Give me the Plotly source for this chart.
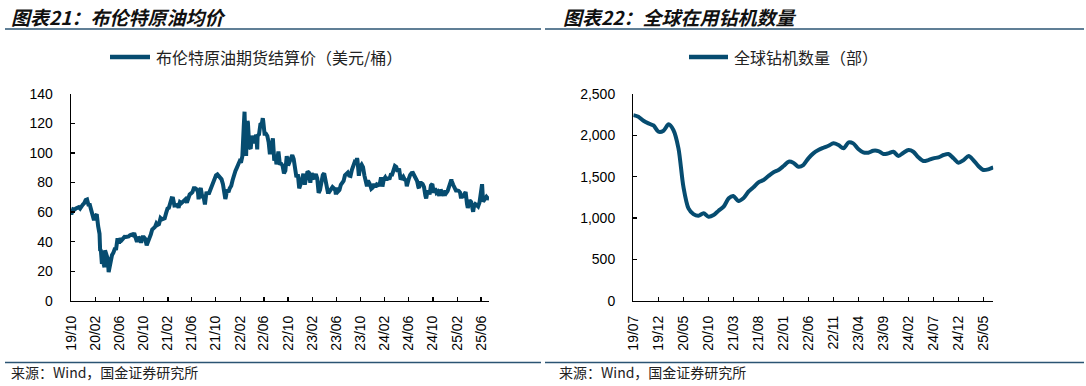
import plotly.graph_objects as go

W, H = 1086, 386

# ---------------- data ----------------
brent_dates = [
    "2019-10-14", "2019-10-18", "2019-10-25", "2019-11-01", "2019-11-08", "2019-11-15", "2019-11-22", "2019-11-29",
    "2019-12-06", "2019-12-13", "2019-12-20", "2019-12-27",
    "2020-01-03", "2020-01-10", "2020-01-17", "2020-01-24", "2020-01-31", "2020-02-07", "2020-02-14", "2020-02-21",
    "2020-02-28", "2020-03-06", "2020-03-09", "2020-03-13", "2020-03-18", "2020-03-20", "2020-03-27", "2020-03-31",
    "2020-04-03", "2020-04-10", "2020-04-17", "2020-04-21", "2020-04-24", "2020-05-01", "2020-05-08", "2020-05-15",
    "2020-05-22", "2020-05-29", "2020-06-05", "2020-06-12", "2020-06-19", "2020-06-26", "2020-07-03", "2020-07-10",
    "2020-07-17", "2020-07-24", "2020-07-31", "2020-08-07", "2020-08-14", "2020-08-21", "2020-08-28", "2020-09-04",
    "2020-09-11", "2020-09-18", "2020-09-25", "2020-10-02", "2020-10-09", "2020-10-16", "2020-10-23", "2020-10-30",
    "2020-11-06", "2020-11-13", "2020-11-20", "2020-11-27", "2020-12-04", "2020-12-11", "2020-12-18", "2020-12-24",
    "2020-12-31",
    "2021-01-08", "2021-01-15", "2021-01-22", "2021-01-29", "2021-02-05", "2021-02-12", "2021-02-19", "2021-02-26",
    "2021-03-05", "2021-03-12", "2021-03-19", "2021-03-26", "2021-04-02", "2021-04-09", "2021-04-16", "2021-04-23",
    "2021-04-30", "2021-05-07", "2021-05-14", "2021-05-21", "2021-05-28", "2021-06-04", "2021-06-11", "2021-06-18",
    "2021-06-25", "2021-07-02", "2021-07-09", "2021-07-16", "2021-07-19", "2021-07-23", "2021-07-30", "2021-08-06",
    "2021-08-13", "2021-08-20", "2021-08-27", "2021-09-03", "2021-09-10", "2021-09-17", "2021-09-24", "2021-10-01",
    "2021-10-08", "2021-10-15", "2021-10-22", "2021-10-29", "2021-11-05", "2021-11-12", "2021-11-19", "2021-11-26",
    "2021-12-01", "2021-12-03", "2021-12-10", "2021-12-17", "2021-12-23", "2021-12-31",
    "2022-01-07", "2022-01-14", "2022-01-21", "2022-01-28", "2022-02-04", "2022-02-11", "2022-02-18", "2022-02-25",
    "2022-03-04", "2022-03-08", "2022-03-11", "2022-03-16", "2022-03-18", "2022-03-23", "2022-03-25", "2022-04-01",
    "2022-04-08", "2022-04-14", "2022-04-22", "2022-04-29", "2022-05-06", "2022-05-11", "2022-05-13", "2022-05-20",
    "2022-05-27", "2022-06-03", "2022-06-08", "2022-06-10", "2022-06-17", "2022-06-24", "2022-07-01", "2022-07-08",
    "2022-07-14", "2022-07-15", "2022-07-22", "2022-07-29", "2022-08-05", "2022-08-12", "2022-08-16", "2022-08-19",
    "2022-08-26", "2022-09-02", "2022-09-09", "2022-09-16", "2022-09-23", "2022-09-30", "2022-10-07", "2022-10-14",
    "2022-10-21", "2022-10-28", "2022-11-04", "2022-11-11", "2022-11-18", "2022-11-25", "2022-12-02", "2022-12-09",
    "2022-12-16", "2022-12-23", "2022-12-30",
    "2023-01-06", "2023-01-13", "2023-01-20", "2023-01-27", "2023-02-03", "2023-02-10", "2023-02-17", "2023-02-24",
    "2023-03-03", "2023-03-10", "2023-03-17", "2023-03-24", "2023-03-31", "2023-04-07", "2023-04-14", "2023-04-21",
    "2023-04-28", "2023-05-04", "2023-05-05", "2023-05-12", "2023-05-19", "2023-05-26", "2023-06-02", "2023-06-09",
    "2023-06-12", "2023-06-16", "2023-06-23", "2023-06-30", "2023-07-07", "2023-07-14", "2023-07-21", "2023-07-28",
    "2023-08-04", "2023-08-11", "2023-08-18", "2023-08-25", "2023-09-01", "2023-09-08", "2023-09-15", "2023-09-22",
    "2023-09-27", "2023-09-29", "2023-10-06", "2023-10-13", "2023-10-20", "2023-10-27", "2023-11-03", "2023-11-10",
    "2023-11-16", "2023-11-17", "2023-11-24", "2023-12-01", "2023-12-08", "2023-12-15", "2023-12-22", "2023-12-29",
    "2024-01-05", "2024-01-12", "2024-01-19", "2024-01-26", "2024-02-02", "2024-02-09", "2024-02-16", "2024-02-23",
    "2024-03-01", "2024-03-08", "2024-03-15", "2024-03-22", "2024-03-28", "2024-04-05", "2024-04-12", "2024-04-19",
    "2024-04-26", "2024-05-03", "2024-05-10", "2024-05-17", "2024-05-24", "2024-05-31", "2024-06-04", "2024-06-07",
    "2024-06-14", "2024-06-21", "2024-06-28", "2024-07-05", "2024-07-12", "2024-07-19", "2024-07-26", "2024-08-02",
    "2024-08-05", "2024-08-09", "2024-08-16", "2024-08-23", "2024-08-30", "2024-09-06", "2024-09-10", "2024-09-13",
    "2024-09-20", "2024-09-27", "2024-10-04", "2024-10-11", "2024-10-18", "2024-10-25", "2024-11-01", "2024-11-08",
    "2024-11-15", "2024-11-22", "2024-11-29", "2024-12-06", "2024-12-13", "2024-12-20", "2024-12-27",
    "2025-01-03", "2025-01-10", "2025-01-15", "2025-01-17", "2025-01-24", "2025-01-31", "2025-02-07", "2025-02-14",
    "2025-02-21", "2025-02-28", "2025-03-05", "2025-03-07", "2025-03-14", "2025-03-21", "2025-03-28", "2025-04-04",
    "2025-04-08", "2025-04-11", "2025-04-17", "2025-04-25", "2025-05-02", "2025-05-05", "2025-05-09", "2025-05-16",
    "2025-05-23", "2025-05-30", "2025-06-06", "2025-06-13", "2025-06-19", "2025-06-20", "2025-06-24", "2025-06-27",
    "2025-07-04", "2025-07-11", "2025-07-18", "2025-07-24",
]
brent_values = [
    59.4, 59.4, 62.0, 61.7, 62.5, 63.3, 63.4, 62.4,
    64.4, 65.2, 66.1, 68.2,
    68.6, 65.0, 64.9, 60.7, 58.2, 54.5, 57.3, 58.5,
    50.5, 45.3, 34.4, 33.9, 24.9, 27.0, 24.9, 22.7,
    34.1, 31.5, 28.1, 19.3, 21.4, 26.4, 30.9, 32.5,
    35.1, 35.3, 42.3, 38.7, 42.2, 41.0, 42.8, 43.2,
    43.1, 43.3, 43.5, 44.4, 44.8, 44.4, 45.8, 42.7,
    39.8, 43.2, 41.9, 39.3, 42.9, 42.9, 41.8, 37.5,
    39.5, 42.8, 44.9, 48.2, 49.3, 50.0, 52.3, 51.3,
    51.8,
    56.0, 55.1, 55.4, 55.9, 59.3, 62.4, 62.9, 66.1,
    69.4, 69.2, 64.5, 64.6, 64.9, 63.0, 66.8, 66.1,
    67.3, 68.3, 68.7, 66.4, 69.6, 71.9, 72.7, 73.5,
    76.2, 76.2, 75.5, 73.6, 68.6, 74.1, 76.3, 70.7,
    70.6, 65.2, 72.7, 72.6, 72.9, 75.3, 78.1, 79.3,
    82.4, 84.9, 85.5, 84.4, 82.7, 82.2, 78.9, 72.7,
    68.9, 69.9, 75.2, 73.5, 76.1, 77.8,
    81.8, 86.1, 87.9, 90.0, 93.3, 94.4, 93.5, 97.9,
    118.1, 128.0, 112.7, 98.0, 107.9, 121.6, 120.7, 104.4,
    102.8, 111.7, 106.7, 109.3, 112.4, 102.5, 111.6, 112.6,
    119.4, 119.7, 123.6, 122.0, 113.1, 113.1, 111.6, 107.0,
    99.1, 101.2, 103.2, 110.0, 94.9, 98.2, 92.3, 96.7,
    101.0, 93.0, 92.8, 91.4, 86.2, 88.0, 97.9, 91.6,
    93.5, 95.8, 98.6, 96.0, 87.6, 83.6, 85.6, 76.1,
    79.0, 83.9, 85.9,
    78.6, 85.3, 87.6, 86.7, 79.9, 86.4, 83.0, 83.2,
    85.8, 82.8, 73.0, 75.0, 79.8, 85.1, 86.3, 81.7,
    79.5, 72.5, 75.3, 74.2, 75.6, 77.0, 76.1, 74.8,
    72.0, 76.6, 73.9, 74.9, 78.5, 79.9, 81.1, 85.0,
    86.2, 86.8, 84.8, 84.5, 88.6, 90.7, 93.9, 93.3,
    96.5, 95.3, 84.6, 90.9, 92.2, 90.5, 84.9, 81.4,
    77.4, 80.6, 80.6, 78.9, 75.8, 76.6, 79.1, 77.0,
    78.8, 78.3, 78.6, 83.6, 77.3, 82.2, 83.5, 81.6,
    83.6, 82.1, 85.3, 85.4, 87.5, 91.2, 90.5, 87.3,
    89.5, 83.0, 82.8, 84.0, 82.1, 81.6, 77.5, 79.6,
    82.6, 85.2, 86.4, 86.5, 85.0, 82.6, 81.1, 76.8,
    76.3, 79.7, 79.7, 79.0, 76.9, 71.1, 69.2, 71.6,
    74.5, 72.0, 78.1, 79.0, 73.1, 76.1, 73.1, 73.9,
    71.0, 75.2, 72.9, 71.1, 74.5, 72.9, 74.2,
    76.5, 79.8, 82.0, 81.0, 78.5, 76.8, 74.7, 74.7,
    74.4, 73.2, 69.3, 70.4, 70.6, 72.2, 73.6, 65.6,
    62.8, 64.8, 68.0, 66.9, 61.3, 60.2, 63.9, 65.4,
    64.8, 63.9, 66.5, 74.2, 78.9, 77.0, 67.1, 67.8,
    68.3, 70.4, 69.3, 69.2,
]
brent_ticks = ["2019-10-14", "2020-02-14", "2020-06-14", "2020-10-14", "2021-02-14", "2021-06-14",
               "2021-10-14", "2022-02-14", "2022-06-14", "2022-10-14", "2023-02-14", "2023-06-14",
               "2023-10-14", "2024-02-14", "2024-06-14", "2024-10-14", "2025-02-14", "2025-06-14"]
brent_ticklabels = ["19/10", "20/02", "20/06", "20/10", "21/02", "21/06", "21/10", "22/02", "22/06",
                    "22/10", "23/02", "23/06", "23/10", "24/02", "24/06", "24/10", "25/02", "25/06"]

rig_months = [
    "2019-07", "2019-08", "2019-09", "2019-10", "2019-11", "2019-12",
    "2020-01", "2020-02", "2020-03", "2020-04", "2020-05", "2020-06", "2020-07", "2020-08", "2020-09", "2020-10", "2020-11", "2020-12",
    "2021-01", "2021-02", "2021-03", "2021-04", "2021-05", "2021-06", "2021-07", "2021-08", "2021-09", "2021-10", "2021-11", "2021-12",
    "2022-01", "2022-02", "2022-03", "2022-04", "2022-05", "2022-06", "2022-07", "2022-08", "2022-09", "2022-10", "2022-11", "2022-12",
    "2023-01", "2023-02", "2023-03", "2023-04", "2023-05", "2023-06", "2023-07", "2023-08", "2023-09", "2023-10", "2023-11", "2023-12",
    "2024-01", "2024-02", "2024-03", "2024-04", "2024-05", "2024-06", "2024-07", "2024-08", "2024-09", "2024-10", "2024-11", "2024-12",
    "2025-01", "2025-02", "2025-03", "2025-04", "2025-05", "2025-06", "2025-07",
]
rig_values = [
    2245, 2225, 2177, 2145, 2120, 2044,
    2056, 2133, 2064, 1843, 1379, 1117, 1048, 1028, 1057, 1016, 1036, 1088,
    1137, 1238, 1266, 1206, 1238, 1318, 1371, 1432, 1460, 1508, 1553, 1581,
    1629, 1681, 1669, 1621, 1641, 1722, 1782, 1822, 1850, 1874, 1903, 1883,
    1843, 1915, 1903, 1834, 1794, 1790, 1814, 1810, 1774, 1782, 1802, 1750,
    1790, 1822, 1802, 1734, 1689, 1701, 1722, 1734, 1762, 1774, 1722, 1669,
    1701, 1750, 1701, 1629, 1581, 1589, 1613,
]
rig_ticks = ["2019-07", "2019-12", "2020-05", "2020-10", "2021-03", "2021-08", "2022-01", "2022-06",
             "2022-11", "2023-04", "2023-09", "2024-02", "2024-07", "2024-12", "2025-05"]
rig_ticklabels = ["19/07", "19/12", "20/05", "20/10", "21/03", "21/08", "22/01", "22/06",
                  "22/11", "23/04", "23/09", "24/02", "24/07", "24/12", "25/05"]

LINE = "#064C70"
RULE = "#2B5473"
CJK = "Noto Sans CJK SC"
LAT = "Liberation Sans, Arial"


def px(x):
    return x / W


def py(y):
    return 1 - y / H


fig = go.Figure()
fig.add_trace(go.Scatter(x=brent_dates, y=brent_values, mode="lines",
                         line=dict(color=LINE, width=4), xaxis="x", yaxis="y",
                         name="布伦特原油期货结算价（美元/桶）", showlegend=False))
fig.add_trace(go.Scatter(x=rig_months, y=rig_values, mode="lines",
                         line=dict(color=LINE, width=4, shape="spline", smoothing=0.8),
                         xaxis="x2", yaxis="y2", name="全球钻机数量（部）", showlegend=False))

ydom = [py(300.7), py(94)]
axis_common = dict(showline=True, linecolor="black", linewidth=1.3, ticks="inside", ticklen=4,
                   tickcolor="black", tickwidth=1.3, showgrid=False, zeroline=False, automargin=False,
                   tickfont=dict(family=LAT, size=14, color="black"))

fig.update_layout(
    template="none",
    width=W, height=H, margin=dict(l=0, r=0, t=0, b=0, pad=0), autosize=False,
    paper_bgcolor="white", plot_bgcolor="white",
    xaxis=dict(domain=[px(71), px(489)], type="date", range=["2019-10-14", "2025-07-24"],
               tickmode="array", tickvals=brent_ticks, ticktext=brent_ticklabels,
               tickangle=-90, ticklabelstandoff=8, anchor="y", **axis_common),
    yaxis=dict(domain=ydom, range=[0, 140], tickmode="array", tickvals=[0, 20, 40, 60, 80, 100, 120, 140],
               ticklabelstandoff=14, anchor="x", **axis_common),
    xaxis2=dict(domain=[px(633.3), px(993.3)], type="date", range=["2019-07-01", "2025-07-01"],
                tickmode="array", tickvals=rig_ticks, ticktext=rig_ticklabels,
                tickangle=-90, ticklabelstandoff=8, anchor="y2", **axis_common),
    yaxis2=dict(domain=ydom, range=[0, 2500], tickmode="array", tickvals=[0, 500, 1000, 1500, 2000, 2500],
                tickformat=",", ticklabelstandoff=14, anchor="x2", **axis_common),
)

shapes = []
for x0, x1 in [(5, 541), (545, 1084)]:
    shapes.append(dict(type="line", xref="paper", yref="paper", x0=px(x0), x1=px(x1),
                       y0=py(29), y1=py(29), line=dict(color=RULE, width=1.6)))
    shapes.append(dict(type="line", xref="paper", yref="paper", x0=px(x0), x1=px(x1),
                       y0=py(362.5), y1=py(362.5), line=dict(color=RULE, width=1.6)))
shapes.append(dict(type="line", xref="paper", yref="paper", x0=px(110), x1=px(150),
                   y0=py(57), y1=py(57), line=dict(color=LINE, width=4.5)))
shapes.append(dict(type="line", xref="paper", yref="paper", x0=px(689), x1=px(728),
                   y0=py(57), y1=py(57), line=dict(color=LINE, width=4.5)))

annotations = [
    dict(text="图表21：布伦特原油均价", x=px(9), y=py(16)),
    dict(text="图表22：全球在用钻机数量", x=px(561), y=py(16)),
]
for a in annotations:
    a.update(xref="paper", yref="paper", xanchor="left", yanchor="middle", showarrow=False,
             font=dict(family=CJK, size=19, color="#111111", weight="bold", style="italic"))
annotations += [
    dict(text="布伦特原油期货结算价（美元/桶）", x=px(154), y=py(57), xref="paper", yref="paper",
         xanchor="left", yanchor="middle", showarrow=False, font=dict(family=CJK, size=16, color="#222222")),
    dict(text="全球钻机数量（部）", x=px(732), y=py(57), xref="paper", yref="paper",
         xanchor="left", yanchor="middle", showarrow=False, font=dict(family=CJK, size=16, color="#222222")),
    dict(text="来源：Wind，国金证券研究所", x=px(9), y=py(372), xref="paper", yref="paper",
         xanchor="left", yanchor="middle", showarrow=False, font=dict(family=CJK, size=14, color="#222222")),
    dict(text="来源：Wind，国金证券研究所", x=px(557), y=py(372), xref="paper", yref="paper",
         xanchor="left", yanchor="middle", showarrow=False, font=dict(family=CJK, size=14, color="#222222")),
]
fig.update_layout(shapes=shapes, annotations=annotations)

fig.write_html("out.html", config={"displayModeBar": False, "staticPlot": True},
               post_script="document.documentElement.style.margin='0';document.body.style.margin='0';"
                           "document.body.style.overflow='hidden';")
